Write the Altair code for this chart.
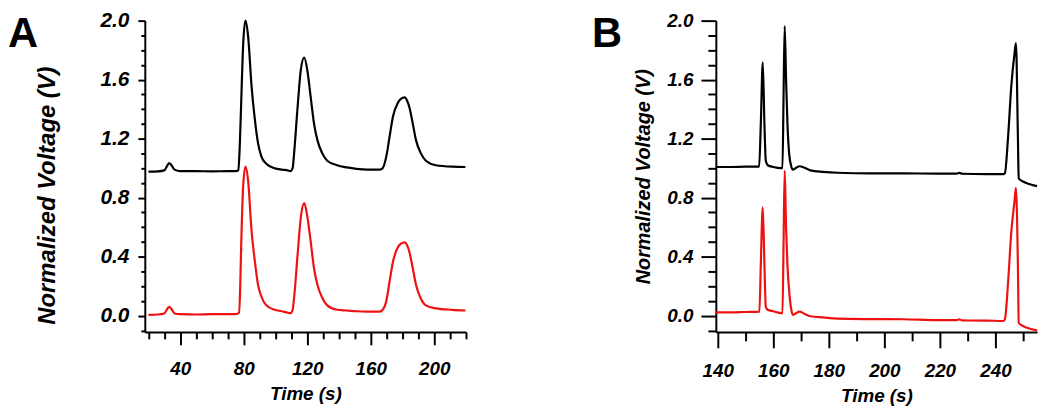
import altair as alt
import pandas as pd

# ---------------- Panel A data ----------------
a_black_t = [20, 26, 30, 31.5, 33, 34.5, 36.5, 40, 50, 60, 70, 75, 76.6, 77.5, 78.3, 79.7, 81.1, 82.8,
             84.9, 87, 89, 91.1, 94.2, 99.4, 104, 107.7, 109.4, 110.8, 111.8, 113.9, 116, 118.1, 120.1,
             122.2, 124.3, 126.4, 129.5, 132.6, 138.8, 145, 151, 158, 165.7, 167.5, 169.9, 171.9, 174,
             177.1, 179, 181.3, 183, 184.4, 186.5, 188.5, 191.6, 194.7, 201, 211.4, 219.6]
a_black_v = [0.976, 0.978, 0.985, 1.01, 1.035, 1.02, 0.99, 0.98, 0.98, 0.978, 0.98, 0.98, 0.985, 1.15,
             1.41, 1.85, 2.0, 1.89, 1.56, 1.33, 1.17, 1.08, 1.03, 1.0, 0.99, 0.985, 0.98, 1.0, 1.11, 1.41,
             1.67, 1.75, 1.66, 1.48, 1.30, 1.19, 1.10, 1.05, 1.02, 1.005, 0.995, 0.99, 0.99, 1.0, 1.085,
             1.216, 1.35, 1.444, 1.47, 1.48, 1.455, 1.41, 1.30, 1.19, 1.10, 1.05, 1.02, 1.01, 1.008]

a_red_t = [20, 26, 30, 31.5, 33, 34.5, 36.5, 40, 50, 60, 70, 75, 77, 77.8, 78.3, 79.7, 81.1, 82.8,
           84.9, 87, 89, 91.1, 94.2, 99.4, 104, 107.7, 109.4, 110.8, 111.8, 113.9, 116, 118.1, 120.1,
           122.2, 124.3, 126.4, 129.5, 132.6, 138.8, 145, 151, 158, 165.7, 167.5, 169.9, 171.9, 174,
           177.1, 179, 181.3, 183, 184.4, 186.5, 188.5, 191.6, 194.7, 201, 211.4, 219.6]
a_red_v = [0.006, 0.008, 0.015, 0.04, 0.06, 0.045, 0.015, 0.01, 0.008, 0.01, 0.01, 0.01, 0.02, 0.2,
           0.43, 0.89, 1.01, 0.91, 0.58, 0.37, 0.21, 0.13, 0.07, 0.04, 0.03, 0.02, 0.017, 0.04, 0.13,
           0.41, 0.67, 0.763, 0.67, 0.50, 0.32, 0.21, 0.12, 0.07, 0.04, 0.035, 0.03, 0.028, 0.028, 0.04,
           0.105, 0.235, 0.366, 0.464, 0.488, 0.497, 0.475, 0.43, 0.32, 0.21, 0.115, 0.07, 0.05, 0.04, 0.035]

# ---------------- Panel B data ----------------
b_black_t = [139.3, 145, 150, 154.9, 155.5, 156.2, 156.8, 157.3, 158, 160, 162.9, 163.3, 163.7, 164.1,
             164.6, 165.1, 165.7, 166.5, 167, 168, 169.5, 171, 173.4, 178, 183, 195, 206.9, 218.9, 226,
             227, 228, 236.8, 242.8, 243.4, 244.6, 245.7, 246.9, 247.4, 248.1, 248.4, 249.9, 251.1, 255]
b_black_v = [1.008, 1.008, 1.01, 1.01, 1.3, 1.717, 1.3, 1.05, 1.02, 1.008, 1.0, 1.0, 1.5, 1.963, 1.6,
             1.3, 1.1, 1.01, 0.99, 1.0, 1.013, 1.005, 0.985, 0.975, 0.969, 0.965, 0.965, 0.963, 0.963,
             0.968, 0.962, 0.959, 0.959, 0.965, 1.22, 1.55, 1.78, 1.848, 1.22, 0.93, 0.91, 0.90, 0.878]

b_red_t = [139.3, 145, 150, 155, 155.5, 156.2, 156.8, 157.3, 158, 160, 162.9, 163.3, 163.7, 164.1,
           164.6, 165.1, 165.7, 166.5, 167, 168, 169.5, 171, 173.4, 178, 183, 195, 206.9, 218.9, 226,
           227, 228, 236.8, 242.8, 243.4, 244.6, 245.7, 246.9, 247.4, 248.1, 248.4, 249.9, 251.1, 255]
b_red_v = [0.022, 0.022, 0.025, 0.028, 0.35, 0.735, 0.35, 0.06, 0.04, 0.03, 0.017, 0.017, 0.5, 0.983,
           0.6, 0.34, 0.17, 0.04, 0.006, 0.015, 0.028, 0.015, -0.004, -0.012, -0.02, -0.023, -0.024,
           -0.03, -0.03, -0.025, -0.032, -0.033, -0.036, -0.026, 0.235, 0.56, 0.78, 0.867, 0.345,
           -0.048, -0.07, -0.08, -0.10]

# ---------------- Axis tick values / labels ----------------
y_ticks = [-0.1, 0.0, 0.1, 0.2, 0.3, 0.4, 0.5, 0.6, 0.7, 0.8, 0.9, 1.0, 1.1, 1.2, 1.3, 1.4, 1.5,
           1.6, 1.7, 1.8, 1.9, 2.0]
a_x_ticks = [20, 30, 40, 50, 60, 70, 80, 90, 100, 110, 120, 130, 140, 150, 160, 170, 180, 190, 200, 210, 220]
b_x_ticks = [140, 150, 160, 170, 180, 190, 200, 210, 220, 230, 240, 250]
panel_letters = ["A", "B"]
series_names = ["black", "red"]
series_colors = ["#000000", "#ee1111"]

FONT = "Liberation Sans"


def frame(t_black, v_black, t_red, v_red):
    d1 = pd.DataFrame({"t": t_black, "v": v_black, "s": series_names[0]})
    d2 = pd.DataFrame({"t": t_red, "v": v_red, "s": series_names[1]})
    return pd.concat([d1, d2], ignore_index=True)


def panel(df, letter, xdom, xticks, xmajor, xtick_major, xtick_minor, x_lab_pad, x_title_y,
          ytick_major, ytick_minor, y_lab_pad, y_lab_size, y_title_x, y_title_y, y_title_size, letter_x):
    xaxis = alt.Axis(
        values=xticks,
        labelExpr=f"datum.value % {xmajor} === 0 ? datum.value : ''",
        tickSize={"condition": {"test": f"datum.value % {xmajor} === 0", "value": xtick_major},
                  "value": xtick_minor},
        labelPadding=x_lab_pad,
        title="Time (s)",
        titleFontSize=19,
        titleY=x_title_y,
    )
    yaxis = alt.Axis(
        values=y_ticks,
        labelExpr="round(datum.value*10) % 4 === 0 ? format(datum.value, '.1f') : ''",
        tickSize={"condition": {"test": "round(datum.value*10) % 4 === 0", "value": ytick_major},
                  "value": ytick_minor},
        labelPadding=y_lab_pad,
        labelFontSize=y_lab_size,
        title="Normalized Voltage (V)",
        titleFontSize=y_title_size,
        titleX=y_title_x,
        titleY=y_title_y,
    )
    lines = alt.Chart(df).mark_line(strokeWidth=2.2, interpolate="monotone").encode(
        x=alt.X("t:Q", scale=alt.Scale(domain=xdom, nice=False, zero=False), axis=xaxis),
        y=alt.Y("v:Q", scale=alt.Scale(domain=[-0.11, 2.0], nice=False, zero=False), axis=yaxis),
        color=alt.Color("s:N", scale=alt.Scale(domain=series_names, range=series_colors), legend=None),
        order=alt.Order("t:Q"),
    )
    lab = alt.Chart(pd.DataFrame({"letter": [letter]})).mark_text(
        font=FONT, fontSize=42, fontWeight="bold", align="left", baseline="alphabetic", color="black"
    ).encode(x=alt.value(letter_x), y=alt.value(27), text="letter:N")
    return alt.layer(lines, lab).properties(width=324, height=314)


dfa = frame(a_black_t, a_black_v, a_red_t, a_red_v)
dfb = frame(b_black_t, b_black_v, b_red_t, b_red_v)

pa = panel(dfa, panel_letters[0], [17.7, 220], a_x_ticks, 40, 13, 7, 15, 53,
           7, 4, 9, 21, -86, 176, 24, -138)
pb = panel(dfb, panel_letters[1], [139.3, 255], b_x_ticks, 20, 16, 9, 14, 55,
           15, 8, 8, 19, -63, 157, 20, -125)

chart = alt.hconcat(pa, pb, spacing=123).properties(padding=0).configure_view(stroke=None).configure_axis(
    grid=False,
    domainColor="black",
    domainWidth=2,
    tickColor="black",
    tickWidth=2,
    labelColor="black",
    labelFont=FONT,
    labelFontSize=19,
    labelFontStyle="italic",
    labelFontWeight="bold",
    titleColor="black",
    titleFont=FONT,
    titleFontStyle="italic",
    titleFontWeight="bold",
)

chart.save("out.html", embed_options={"renderer": "svg", "actions": False})
